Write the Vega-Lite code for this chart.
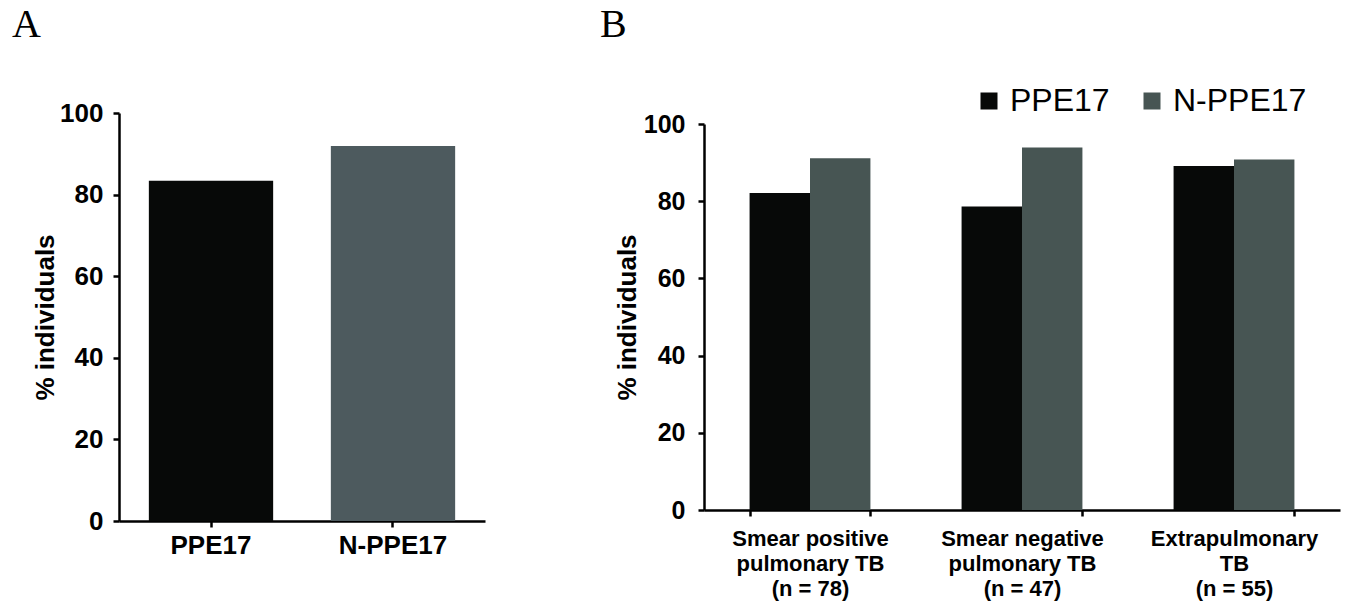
{
  "$schema": "https://vega.github.io/schema/vega-lite/v6.json",
  "background": "white",
  "padding": {"left": 12, "top": 5, "right": 5, "bottom": 5},
  "bounds": "flush",
  "center": true,
  "spacing": 219,
  "resolve": {"scale": {"color": "independent"}, "legend": {"color": "independent"}},
  "config": {
    "view": {"stroke": null},
    "axis": {
      "labelFont": "Liberation Sans",
      "labelFontWeight": "bold",
      "labelColor": "#000000",
      "titleFont": "Liberation Sans",
      "titleFontWeight": "bold",
      "titleColor": "#000000",
      "domainColor": "#000000",
      "tickColor": "#000000",
      "domainWidth": 2.5,
      "tickWidth": 2.5,
      "tickSize": 6,
      "grid": false
    }
  },
  "hconcat": [
    {
      "title": {"text": "A", "anchor": "start", "frame": "group", "dx": -107, "offset": 55, "font": "Liberation Serif", "fontSize": 40, "fontWeight": "normal", "color": "#000000"},
      "width": 366,
      "height": 408,
      "data": {"values": [
        {"group": "PPE17", "pct": 83.4},
        {"group": "N-PPE17", "pct": 91.9}
      ]},
      "mark": {"type": "bar"},
      "encoding": {
        "x": {"field": "group", "type": "nominal", "sort": ["PPE17", "N-PPE17"],
          "scale": {"paddingInner": 0.317, "paddingOuter": 0.164},
          "axis": {"title": null, "labelAngle": 0, "labelFontSize": 26, "labelPadding": 5}},
        "y": {"field": "pct", "type": "quantitative", "scale": {"domain": [0, 100]},
          "axis": {"title": "% individuals", "values": [0, 20, 40, 60, 80, 100], "labelFontSize": 26, "labelPadding": 10, "titleFontSize": 26, "titlePadding": 1}},
        "color": {"field": "group", "type": "nominal", "scale": {"domain": ["PPE17", "N-PPE17"], "range": ["#070908", "#4d5a5e"]}, "legend": null}
      }
    },
    {
      "title": {"text": "B", "anchor": "start", "frame": "group", "dx": -104, "offset": 40, "font": "Liberation Serif", "fontSize": 40, "fontWeight": "normal", "color": "#000000"},
      "width": 636,
      "height": 386,
      "data": {"values": [
        {"category": "Smear positive|pulmonary TB|(n = 78)", "marker": "PPE17", "pct": 82.1},
        {"category": "Smear positive|pulmonary TB|(n = 78)", "marker": "N-PPE17", "pct": 91.1},
        {"category": "Smear negative|pulmonary TB|(n = 47)", "marker": "PPE17", "pct": 78.6},
        {"category": "Smear negative|pulmonary TB|(n = 47)", "marker": "N-PPE17", "pct": 93.9},
        {"category": "Extrapulmonary|TB|(n = 55)", "marker": "PPE17", "pct": 89.1},
        {"category": "Extrapulmonary|TB|(n = 55)", "marker": "N-PPE17", "pct": 90.8}
      ]},
      "mark": {"type": "bar"},
      "encoding": {
        "x": {"field": "category", "type": "nominal", "sort": null,
          "scale": {"paddingInner": 0.43, "paddingOuter": 0.215},
          "axis": {"title": null, "labelAngle": 0, "labelFontSize": 22, "labelLineHeight": 25, "labelPadding": 12, "tickBand": "extent", "labelExpr": "split(datum.label, '|')", "labelLimit": 400}},
        "xOffset": {"field": "marker", "type": "nominal", "sort": ["PPE17", "N-PPE17"], "scale": {"paddingInner": 0, "paddingOuter": 0}},
        "y": {"field": "pct", "type": "quantitative", "scale": {"domain": [0, 100]},
          "axis": {"title": "% individuals", "values": [0, 20, 40, 60, 80, 100], "labelFontSize": 25, "labelPadding": 13, "titleFontSize": 26, "titlePadding": 3}},
        "color": {"field": "marker", "type": "nominal", "scale": {"domain": ["PPE17", "N-PPE17"], "range": ["#070908", "#475553"]},
          "legend": {"orient": "none", "legendX": 269, "legendY": -39, "direction": "horizontal", "title": null, "symbolType": "square", "symbolSize": 289, "symbolStrokeWidth": 0, "symbolOpacity": 1, "labelFontSize": 32, "labelFont": "Liberation Sans", "labelFontWeight": "normal", "labelColor": "#000000", "labelOffset": 5, "columnPadding": 26}}
      }
    }
  ]
}
